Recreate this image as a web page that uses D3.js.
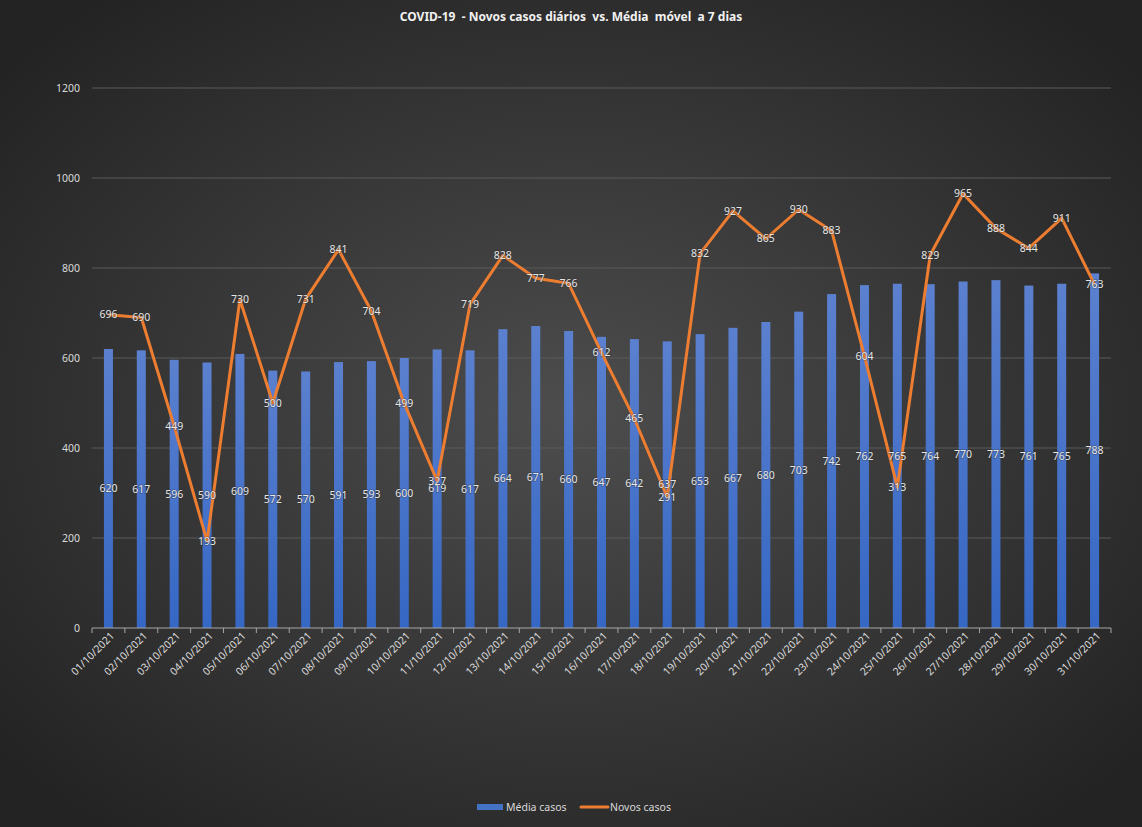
<!DOCTYPE html>
<html>
<head>
<meta charset="utf-8">
<script src="https://cdn.jsdelivr.net/npm/d3@7"></script>
<style>
  html, body { margin: 0; padding: 0; background: #2a2a2a; }
  svg { display: block; }
  text { font-family: "Noto Sans", "DejaVu Sans", sans-serif; }
</style>
</head>
<body>
<svg id="chart" width="1142" height="827"></svg>
<script>
const categories = ["01/10/2021","02/10/2021","03/10/2021","04/10/2021","05/10/2021","06/10/2021","07/10/2021","08/10/2021","09/10/2021","10/10/2021","11/10/2021","12/10/2021","13/10/2021","14/10/2021","15/10/2021","16/10/2021","17/10/2021","18/10/2021","19/10/2021","20/10/2021","21/10/2021","22/10/2021","23/10/2021","24/10/2021","25/10/2021","26/10/2021","27/10/2021","28/10/2021","29/10/2021","30/10/2021","31/10/2021"];
const mediaCasos = [620,617,596,590,609,572,570,591,593,600,619,617,664,671,660,647,642,637,653,667,680,703,742,762,765,764,770,773,761,765,788];
const novosCasos = [696,690,449,193,730,500,731,841,704,499,327,719,828,777,766,612,465,291,832,927,865,930,883,604,313,829,965,888,844,911,763];
const yTicks = [0,200,400,600,800,1000,1200];
const seriesNames = ["Média casos","Novos casos"];
const titleText = "COVID-19  - Novos casos diários  vs. Média  móvel  a 7 dias";

const W = 1142, H = 827;
const m = {left: 92, right: 31, top: 88, bottom: 199};
const svg = d3.select("#chart");
const defs = svg.append("defs");

const bg = defs.append("radialGradient").attr("id","bg")
  .attr("cx","50%").attr("cy","50%").attr("r","65%");
bg.append("stop").attr("offset","0%").attr("stop-color","#4d4d4d");
bg.append("stop").attr("offset","100%").attr("stop-color","#232323");

const barG = defs.append("linearGradient").attr("id","barg")
  .attr("x1","0").attr("y1","0").attr("x2","0").attr("y2","1");
barG.append("stop").attr("offset","0%").attr("stop-color","#5b80cf");
barG.append("stop").attr("offset","100%").attr("stop-color","#3567c4");

svg.append("rect").attr("width",W).attr("height",H).attr("fill","url(#bg)");

const x = d3.scaleBand().domain(categories).range([m.left, W - m.right]).paddingInner(0).paddingOuter(0);
const y = d3.scaleLinear().domain([0,1200]).range([H - m.bottom, m.top]);

// gridlines
svg.append("g").selectAll("line").data(yTicks.filter(d => d > 0)).join("line")
  .attr("x1", m.left).attr("x2", W - m.right)
  .attr("y1", d => y(d)).attr("y2", d => y(d))
  .attr("stroke", "#5a5a5a").attr("stroke-width", 1);

// y axis labels
const yAxis = d3.axisLeft(y).tickValues(yTicks).tickFormat(d3.format("d")).tickSize(0).tickPadding(12);
const yg = svg.append("g").attr("transform", `translate(${m.left},0)`).call(yAxis);
yg.select(".domain").remove();
yg.selectAll("text").attr("fill","#d9d9d9").style("font-size","10.5px");

// bars
const bw = 9;
svg.append("g").selectAll("rect").data(mediaCasos).join("rect")
  .attr("x", (d,i) => x(categories[i]) + x.bandwidth()/2 - bw/2)
  .attr("width", bw)
  .attr("y", d => y(d))
  .attr("height", d => y(0) - y(d))
  .attr("fill", "url(#barg)");

// x axis
const xAxis = d3.axisBottom(x).tickSize(0).tickPadding(6);
const xg = svg.append("g").attr("transform", `translate(0,${y(0)})`).call(xAxis);
xg.select(".domain").attr("stroke","#a6a6a6").attr("d", `M${m.left},0H${W - m.right}`);
xg.append("g").selectAll("line").data(d3.range(categories.length + 1)).join("line")
  .attr("x1", i => m.left + i * x.step()).attr("x2", i => m.left + i * x.step())
  .attr("y1", 0).attr("y2", 5).attr("stroke","#a6a6a6");
xg.selectAll(".tick text")
  .attr("fill","#d9d9d9").style("font-size","10.5px")
  .attr("text-anchor","end")
  .attr("transform","translate(4,6) rotate(-45)")
  .attr("dy","0.35em").attr("y",0).attr("x",0);

// line
const line = d3.line().x((d,i) => x(categories[i]) + x.bandwidth()/2).y(d => y(d));
svg.append("path").datum(novosCasos).attr("d", line)
  .attr("fill","none").attr("stroke","#ed7d31").attr("stroke-width",3)
  .attr("stroke-linejoin","round");

// labels
const lblStyle = sel => sel.attr("fill","#e6e6e6").attr("text-anchor","middle")
  .attr("dy","0.35em").style("font-size","10.5px")
  .style("paint-order","stroke").attr("stroke","rgba(40,40,40,0.35)").attr("stroke-width",1.5);
svg.append("g").selectAll("text").data(mediaCasos).join("text")
  .attr("x", (d,i) => x(categories[i]) + x.bandwidth()/2)
  .attr("y", d => (y(0) + y(d)) / 2)
  .text(d => d).call(lblStyle);
svg.append("g").selectAll("text").data(novosCasos).join("text")
  .attr("x", (d,i) => x(categories[i]) + x.bandwidth()/2)
  .attr("y", d => y(d))
  .text(d => d).call(lblStyle);

// title
svg.append("text").attr("x", W/2).attr("y", 17).attr("dy","0.35em")
  .attr("text-anchor","middle").attr("fill","#f2f2f2")
  .style("font-size","12px").style("font-weight","bold").style("white-space","pre")
  .text(titleText);

// legend
const lg = svg.append("g");
lg.append("rect").attr("x",477).attr("y",804).attr("width",26).attr("height",6).attr("fill","#4472c4");
lg.append("text").attr("x",506).attr("y",807).attr("dy","0.35em").attr("fill","#d9d9d9")
  .style("font-size","10.5px").text(seriesNames[0]);
lg.append("line").attr("x1",581).attr("x2",608).attr("y1",807).attr("y2",807)
  .attr("stroke","#ed7d31").attr("stroke-width",3).attr("stroke-linecap","round");
lg.append("text").attr("x",610).attr("y",807).attr("dy","0.35em").attr("fill","#d9d9d9")
  .style("font-size","10.5px").text(seriesNames[1]);
</script>
</body>
</html>
